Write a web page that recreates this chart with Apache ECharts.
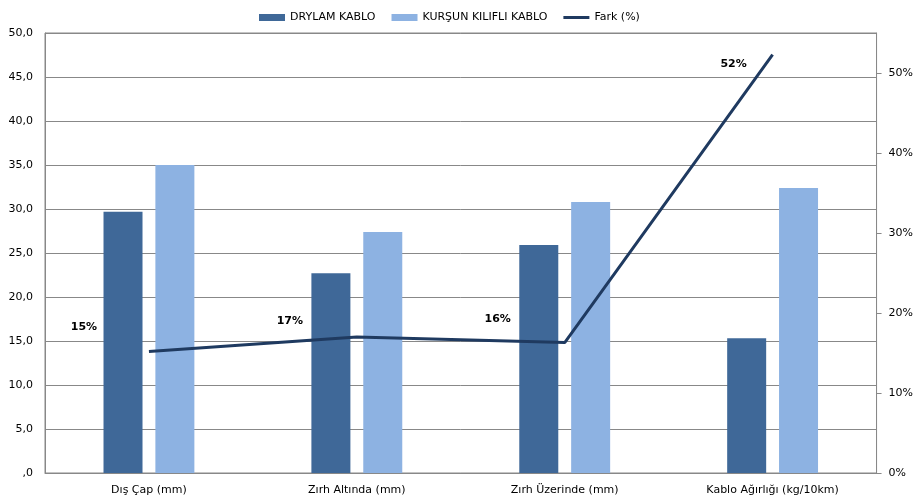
<!DOCTYPE html>
<html><head><meta charset="utf-8">
<script src="https://cdn.jsdelivr.net/npm/echarts@6/dist/echarts.min.js"></script>
<style>html,body{margin:0;padding:0;background:#fff}#c{width:916px;height:500px}</style>
</head><body><div id="c"></div>
<script>
var categories = ['Dış Çap (mm)', 'Zırh Altında (mm)', 'Zırh Üzerinde (mm)', 'Kablo Ağırlığı (kg/10km)'];
var drylam = [29.7, 22.7, 25.9, 15.3];
var kursun = [35.0, 27.4, 30.8, 32.4];
var fark = [15.2, 17.0, 16.3, 52.3];
var farkLabels = ['15%', '17%', '16%', '52%'];
var labelOffsets = [[-65, -24], [-67, -16], [-67, -23], [-39, 10]];

var FONT = 'DejaVu Sans';
var chart = echarts.init(document.getElementById('c'), null, {renderer: 'canvas'});
chart.setOption({
  animation: false,
  textStyle: {fontFamily: FONT},
  legend: {
    top: 7, left: 254, itemGap: 16, itemWidth: 26, itemHeight: 7,
    textStyle: {fontFamily: FONT, fontSize: 11, color: '#000'},
    data: [
      {name: 'DRYLAM KABLO', icon: 'rect'},
      {name: 'KURŞUN KILIFLI KABLO', icon: 'rect'},
      {name: 'Fark (%)', icon: 'path://M0,0H26V3H0Z', itemStyle: {color: '#1F3A60'}}
    ]
  },
  grid: {left: 45, right: 38, top: 33, bottom: 27, show: true, borderColor: '#888', borderWidth: 1},
  xAxis: {
    type: 'category', data: categories,
    axisLine: {lineStyle: {color: '#888'}},
    axisTick: {show: false},
    axisLabel: {fontFamily: FONT, fontSize: 11, color: '#000', margin: 12}
  },
  yAxis: [{
    type: 'value', min: 0, max: 50, interval: 5,
    axisLine: {show: true, lineStyle: {color: '#888'}},
    axisTick: {show: false},
    splitLine: {lineStyle: {color: '#888'}},
    axisLabel: {fontFamily: FONT, fontSize: 11, color: '#000', margin: 12,
      formatter: function (v) { var s = v.toFixed(1).replace('.', ','); return s.replace(/^0,/, ','); }}
  }, {
    type: 'value', min: 0, max: 55, interval: 10,
    axisLine: {show: true, lineStyle: {color: '#888'}},
    axisTick: {show: true, length: 5, lineStyle: {color: '#888'}},
    splitLine: {show: false},
    axisLabel: {fontFamily: FONT, fontSize: 11, color: '#000', margin: 12, formatter: '{value}%', showMaxLabel: false}
  }],
  series: [{
    name: 'DRYLAM KABLO', type: 'bar', data: drylam, barWidth: 39, barGap: '33%',
    itemStyle: {color: '#3F6898'}
  }, {
    name: 'KURŞUN KILIFLI KABLO', type: 'bar', data: kursun, barWidth: 39,
    itemStyle: {color: '#8DB2E2'}
  }, {
    name: 'Fark (%)', type: 'line', yAxisIndex: 1,
    symbol: 'circle', symbolSize: 0, showSymbol: true,
    lineStyle: {color: '#1F3A60', width: 3},
    itemStyle: {color: '#1F3A60'},
    data: fark.map(function (v, i) {
      return {value: v, label: {show: true, position: 'inside', offset: labelOffsets[i],
        formatter: farkLabels[i], fontFamily: FONT, fontSize: 11, fontWeight: 'bold', color: '#000'}};
    })
  }]
});
</script></body></html>
